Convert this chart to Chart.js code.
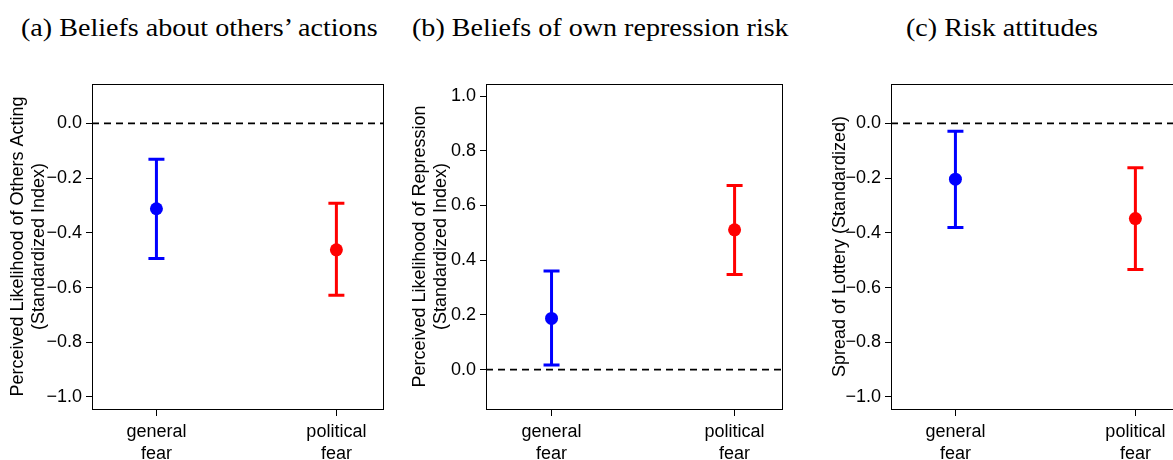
<!DOCTYPE html>
<html>
<head>
<meta charset="utf-8">
<script src="https://cdn.jsdelivr.net/npm/chart.js@4.4.1/dist/chart.umd.min.js"></script>
<style>
  html, body { margin: 0; padding: 0; background: #fff; }
  body { width: 1173px; height: 460px; overflow: hidden; position: relative; }
  canvas { position: absolute; top: 0; }
  .ttl {
    position: absolute; top: 15px; margin: 0;
    font-family: "Liberation Serif", "DejaVu Serif", serif;
    font-size: 26px; line-height: 26px; color: #000;
    white-space: nowrap; transform: scaleX(1.08); transform-origin: left top;
  }
</style>
</head>
<body>
<div class="ttl" style="left:21px">(a) Beliefs about others’ actions</div>
<div class="ttl" style="left:412px">(b) Beliefs of own repression risk</div>
<div class="ttl" style="left:906px">(c) Risk attitudes</div>
<canvas id="pa" width="395" height="460" style="left:0px"></canvas>
<canvas id="pb" width="395" height="460" style="left:395px"></canvas>
<canvas id="pc" width="400" height="460" style="left:790px"></canvas>
<script>
// categories and x positions
const categories = [["general", "fear"], ["political", "fear"]];
const catPos = [1, 2];
const catColors = ["#0000ff", "#ff0000"];

// (a) others acting
const othersMean = [-0.312, -0.462];
const othersLow  = [-0.494, -0.628];
const othersHigh = [-0.131, -0.292];

// (b) repression risk
const reprMean = [0.187, 0.511];
const reprLow  = [0.017, 0.348];
const reprHigh = [0.360, 0.673];

// (c) lottery spread
const riskMean = [-0.204, -0.348];
const riskLow  = [-0.381, -0.534];
const riskHigh = [-0.029, -0.162];

// tick labels
const ticksNeg = [-1.0, -0.8, -0.6, -0.4, -0.2, 0.0];
const ticksPos = [0.0, 0.2, 0.4, 0.6, 0.8, 1.0];
const refValue = 0;

const FONT = "'Liberation Sans', Arial, Helvetica, sans-serif";

function fmt(v) {
  const s = Math.abs(v).toFixed(1);
  return v < -1e-9 ? "\u2212" + s : s;
}

// error bars, dashed zero line and box
const errPlugin = {
  id: "errbars",
  beforeDatasetsDraw(chart, args, opts) {
    const {ctx, chartArea: ca, scales: {x, y}} = chart;
    ctx.save();
    // dashed reference line
    const y0 = y.getPixelForValue(refValue);
    ctx.strokeStyle = "#000";
    ctx.lineWidth = 1.8;
    ctx.setLineDash([7, 5]);
    ctx.beginPath();
    ctx.moveTo(ca.left, y0);
    ctx.lineTo(ca.right, y0);
    ctx.stroke();
    ctx.setLineDash([]);
    // error bars
    ctx.lineWidth = 3;
    opts.low.forEach((lo, i) => {
      const px = x.getPixelForValue(catPos[i]);
      const pl = y.getPixelForValue(lo);
      const ph = y.getPixelForValue(opts.high[i]);
      ctx.strokeStyle = catColors[i];
      ctx.beginPath();
      ctx.moveTo(px, pl); ctx.lineTo(px, ph);
      ctx.moveTo(px - 8, pl); ctx.lineTo(px + 8, pl);
      ctx.moveTo(px - 8, ph); ctx.lineTo(px + 8, ph);
      ctx.stroke();
    });
    ctx.restore();
  },
  afterDraw(chart) {
    const {ctx, chartArea: ca} = chart;
    ctx.save();
    ctx.strokeStyle = "#000";
    ctx.lineWidth = 1;
    ctx.strokeRect(Math.round(ca.left) + 0.5, Math.round(ca.top) + 0.5,
      Math.round(ca.right - ca.left), Math.round(ca.bottom - ca.top));
    ctx.restore();
  }
};

function makePanel(id, means, low, high, yTicks, yMin, yMax, title, yWidth, titlePad, rightPad) {
  const ctx = document.getElementById(id).getContext("2d");
  return new Chart(ctx, {
    type: "scatter",
    data: {
      datasets: [{
        data: means.map((m, i) => ({x: catPos[i], y: m})),
        backgroundColor: catColors,
        borderWidth: 0,
        pointRadius: 6.5,
        pointHoverRadius: 6.5
      }]
    },
    options: {
      responsive: false,
      animation: false,
      events: [],
      layout: {padding: {top: 84, right: rightPad, bottom: 0, left: 0}},
      plugins: {
        legend: {display: false},
        tooltip: {enabled: false},
        errbars: {low: low, high: high}
      },
      scales: {
        x: {
          type: "linear",
          min: 0.642, max: 2.259,
          afterBuildTicks: s => { s.ticks = catPos.map(v => ({value: v})); },
          afterFit: s => { s.height = 51; },
          grid: {display: true, drawOnChartArea: false, drawTicks: true, tickLength: 7, color: "#000"},
          border: {display: false},
          ticks: {
            color: "#000", padding: 6, maxRotation: 0, autoSkip: false,
            font: {family: FONT, size: 18, lineHeight: 1.17},
            callback: v => categories[catPos.indexOf(v)]
          }
        },
        y: {
          type: "linear",
          min: yMin, max: yMax,
          afterBuildTicks: s => { s.ticks = yTicks.map(v => ({value: v})); },
          afterFit: s => { s.width = yWidth; },
          grid: {display: true, drawOnChartArea: false, drawTicks: true, tickLength: 6, color: "#000"},
          border: {display: false},
          ticks: {
            color: "#000", padding: 4, autoSkip: false,
            font: {family: FONT, size: 18},
            callback: v => fmt(v)
          },
          title: {
            display: true, text: title, color: "#000",
            padding: {top: titlePad, bottom: 0},
            font: {family: FONT, size: 18, lineHeight: 1.14}
          }
        }
      }
    },
    plugins: [errPlugin]
  });
}

makePanel("pa", othersMean, othersLow, othersHigh, ticksNeg, -1.044, 0.144,
  ["Perceived Likelihood of Others Acting", "(Standardized Index)"], 92, 8, 12);
makePanel("pb", reprMean, reprLow, reprHigh, ticksPos, -0.144, 1.044,
  ["Perceived Likelihood of Repression", "(Standardized Index)"], 91, 15, 8);
makePanel("pc", riskMean, riskLow, riskHigh, ticksNeg, -1.044, 0.144,
  "Spread of Lottery (Standardized)", 101, 40, 8);
</script>
</body>
</html>
